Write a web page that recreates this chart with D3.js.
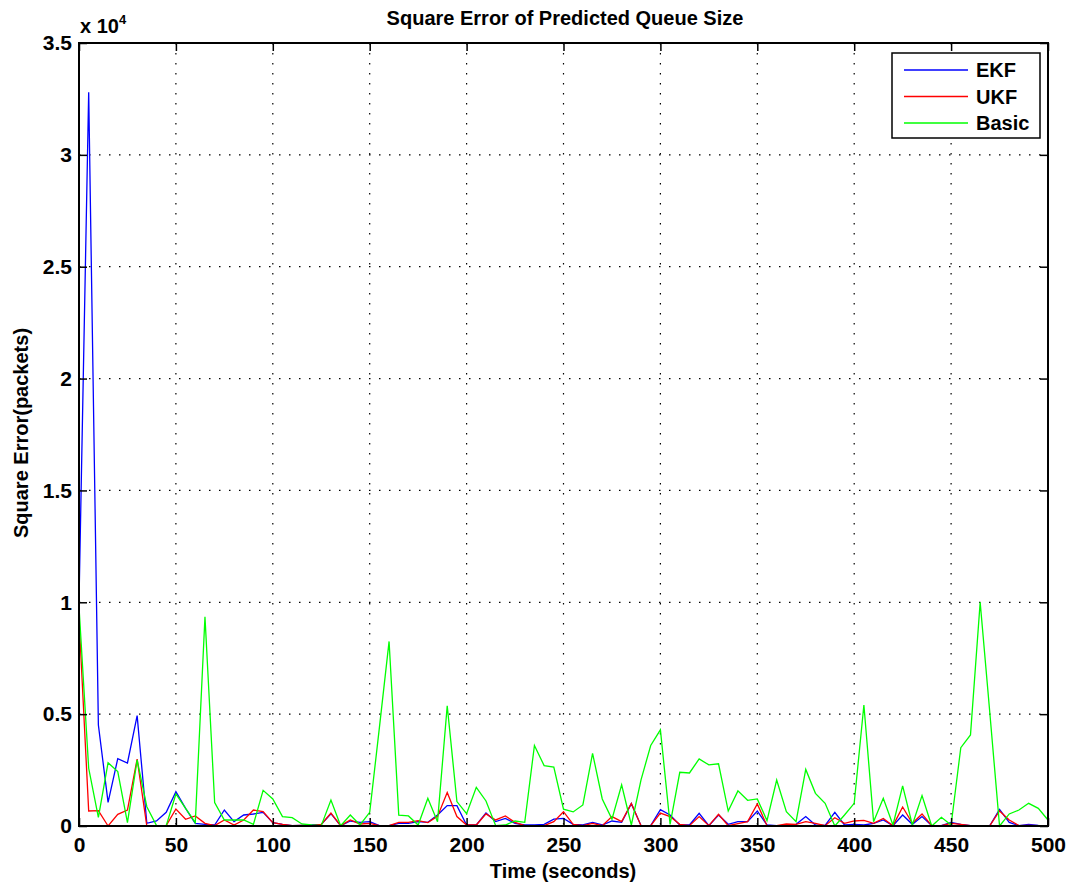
<!DOCTYPE html>
<html>
<head>
<meta charset="utf-8">
<script src="https://cdn.jsdelivr.net/npm/d3@7"></script>
<style>
  body { margin: 0; background: #fff; }
  text { font-family: "Liberation Sans", Arial, sans-serif; font-weight: bold; }
</style>
</head>
<body>
<div id="chart"></div>
<script>
// Time axis: one sample every 5 seconds
const times = d3.range(0, 501, 5);

// Square error series (packets)
const ekf = [10000, 32800, 4515, 1058, 3010, 2816, 4932, 120, 224, 611,
  1535, 790, 120, 75, 45, 715, 194, 492, 536, 611,
  150, 75, 15, 30, 45, 75, 550, 15, 224, 164,
  195, 15, 15, 120, 120, 195, 164, 490, 910, 910,
  45, 45, 580, 195, 340, 120, 45, 45, 75, 310,
  340, 75, 45, 164, 45, 224, 164, 1000, 15, 15,
  730, 490, 45, 45, 570, 15, 490, 75, 195, 195,
  670, 45, 15, 30, 75, 420, 45, 30, 610, 45,
  75, 45, 120, 270, 15, 490, 75, 420, 15, 15,
  164, 75, 15, 15, 15, 745, 164, 15, 75, 30, 15];
const ukf = [9300, 670, 685, 0, 520, 715, 2995, 0, 0, 15,
  760, 300, 447, 120, 15, 268, 45, 268, 715, 640,
  150, 75, 15, 30, 15, 75, 580, 15, 270, 90,
  120, 15, 15, 164, 164, 240, 150, 430, 1500, 420,
  45, 45, 540, 270, 450, 164, 15, 15, 15, 195,
  640, 75, 15, 120, 15, 420, 195, 1010, 15, 15,
  580, 420, 75, 15, 420, 15, 520, 15, 105, 195,
  985, 15, 15, 90, 75, 194, 120, 15, 370, 120,
  224, 250, 120, 340, 15, 850, 120, 540, 15, 15,
  120, 75, 15, 15, 15, 670, 270, 15, 30, 15, 15];
const basic = [9800, 2580, 387, 2830, 2430, 150, 2950, 864, 15, 15,
  1430, 790, 150, 9357, 1043, 268, 268, 268, 75, 1594,
  1207, 417, 372, 90, 45, 15, 1160, 15, 490, 45,
  610, 4400, 8250, 490, 450, 45, 1240, 195, 5375, 1090,
  550, 1730, 1120, 15, 45, 224, 164, 3600, 2700, 2630,
  750, 630, 940, 3250, 1210, 310, 1840, 45, 2060, 3600,
  4300, 75, 2400, 2370, 3000, 2730, 2780, 670, 1570, 1150,
  1210, 240, 2056, 640, 194, 2530, 1460, 1013, 0, 490,
  1013, 5410, 194, 1237, 45, 1790, 45, 1356, 0, 390,
  45, 3500, 4070, 10000, 5040, 0, 540, 715, 1013, 790, 270];

// Axis ticks
const xTicks = [0, 50, 100, 150, 200, 250, 300, 350, 400, 450, 500];
const yTicks = [0, 5000, 10000, 15000, 20000, 25000, 30000, 35000];
const yTickLabels = ["0", "0.5", "1", "1.5", "2", "2.5", "3", "3.5"];

const seriesNames = ["EKF", "UKF", "Basic"];
const seriesColors = ["#0000ff", "#ff0000", "#00ff00"];
const seriesValues = [ekf, ukf, basic];

const width = 1070, height = 884;
const margin = { top: 43, right: 22, bottom: 58, left: 79 };
const plotW = width - margin.left - margin.right;
const plotH = height - margin.top - margin.bottom;

const svg = d3.select("#chart")
  .append("svg")
  .attr("width", width)
  .attr("height", height);

const x = d3.scaleLinear().domain([0, 500]).range([margin.left, margin.left + plotW]);
const y = d3.scaleLinear().domain([0, 35000]).range([margin.top + plotH, margin.top]);

// Grille pointillée
const grid = svg.append("g");
grid.selectAll("line.vgrid")
  .data(xTicks.slice(1, -1))
  .enter()
  .append("line")
  .attr("x1", d => x(d)).attr("x2", d => x(d))
  .attr("y1", margin.top).attr("y2", margin.top + plotH)
  .attr("stroke", "#000")
  .attr("stroke-width", 1.2)
  .attr("stroke-dasharray", "1.5,8.5");
grid.selectAll("line.hgrid")
  .data(yTicks.slice(1, -1))
  .enter()
  .append("line")
  .attr("x1", margin.left).attr("x2", margin.left + plotW)
  .attr("y1", d => y(d)).attr("y2", d => y(d))
  .attr("stroke", "#000")
  .attr("stroke-width", 1.2)
  .attr("stroke-dasharray", "1.5,8.5");

// Courbes
const line = d3.line()
  .x((d, i) => x(times[i]))
  .y(d => y(d));

seriesValues.forEach((vals, k) => {
  svg.append("path")
    .datum(vals)
    .attr("d", line)
    .attr("fill", "none")
    .attr("stroke", seriesColors[k])
    .attr("stroke-width", 1.3);
});

// Axes (ticks inward, box around)
const tickLen = 8;
svg.append("g")
  .attr("transform", `translate(0,${margin.top + plotH})`)
  .call(d3.axisBottom(x).tickValues(xTicks).tickSize(-tickLen).tickPadding(tickLen + 3))
  .call(g => g.select(".domain").remove())
  .call(g => g.selectAll("line").attr("stroke-width", 1.5))
  .call(g => g.selectAll("text").attr("font-size", 21).attr("font-family", "Liberation Sans, Arial").attr("font-weight", "bold").attr("fill", "#000"));

svg.append("g")
  .attr("transform", `translate(0,${margin.top})`)
  .call(d3.axisTop(x).tickValues(xTicks).tickSize(-tickLen).tickFormat(""))
  .call(g => g.select(".domain").remove())
  .call(g => g.selectAll("line").attr("stroke-width", 1.5));

svg.append("g")
  .attr("transform", `translate(${margin.left},0)`)
  .call(d3.axisLeft(y).tickValues(yTicks).tickSize(-tickLen).tickPadding(tickLen - 1)
    .tickFormat((d, i) => yTickLabels[i]))
  .call(g => g.select(".domain").remove())
  .call(g => g.selectAll("line").attr("stroke-width", 1.5))
  .call(g => g.selectAll("text").attr("font-size", 21).attr("font-family", "Liberation Sans, Arial").attr("font-weight", "bold").attr("fill", "#000"));

svg.append("g")
  .attr("transform", `translate(${margin.left + plotW},0)`)
  .call(d3.axisRight(y).tickValues(yTicks).tickSize(-tickLen).tickFormat(""))
  .call(g => g.select(".domain").remove())
  .call(g => g.selectAll("line").attr("stroke-width", 1.5));

svg.append("rect")
  .attr("x", margin.left).attr("y", margin.top)
  .attr("width", plotW).attr("height", plotH)
  .attr("fill", "none")
  .attr("stroke", "#000")
  .attr("stroke-width", 2);

// Exposant de l'axe Y
const expo = svg.append("text")
  .attr("x", 80).attr("y", 33)
  .attr("font-size", 20)
  .attr("fill", "#000");
expo.append("tspan").text("x 10");
expo.append("tspan").attr("dy", -9).attr("font-size", 13).text("4");

// Titre et libellés
svg.append("text")
  .attr("x", 565).attr("y", 25)
  .attr("text-anchor", "middle")
  .attr("font-size", 20)
  .attr("fill", "#000")
  .text("Square Error of Predicted Queue Size");

svg.append("text")
  .attr("x", 563).attr("y", 878)
  .attr("text-anchor", "middle")
  .attr("font-size", 20)
  .attr("fill", "#000")
  .text("Time (seconds)");

svg.append("text")
  .attr("transform", "translate(28,433) rotate(-90)")
  .attr("text-anchor", "middle")
  .attr("font-size", 20)
  .attr("fill", "#000")
  .text("Square Error(packets)");

// Légende
const legend = svg.append("g").attr("transform", "translate(892,53)");
legend.append("rect")
  .attr("width", 148).attr("height", 85)
  .attr("fill", "#fff")
  .attr("stroke", "#000")
  .attr("stroke-width", 1.5);
legend.selectAll("line.leg")
  .data(seriesNames)
  .enter()
  .append("line")
  .attr("x1", 12).attr("x2", 76)
  .attr("y1", (d, i) => 17 + i * 26.5)
  .attr("y2", (d, i) => 17 + i * 26.5)
  .attr("stroke", (d, i) => seriesColors[i])
  .attr("stroke-width", 1.3);
legend.selectAll("text.leg")
  .data(seriesNames)
  .enter()
  .append("text")
  .attr("x", 84)
  .attr("y", (d, i) => 17 + i * 26.5)
  .attr("dominant-baseline", "central")
  .attr("font-size", 20)
  .attr("fill", "#000")
  .text(d => d);
</script>
</body>
</html>
